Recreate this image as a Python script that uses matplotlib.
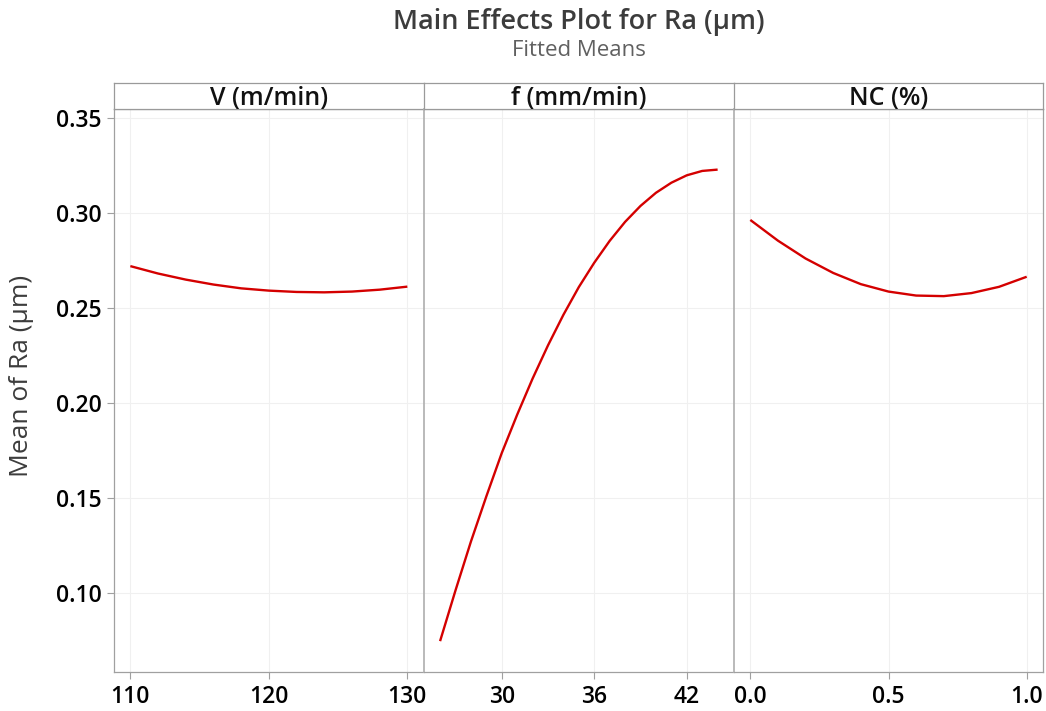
import matplotlib
matplotlib.use("Agg")
import matplotlib.pyplot as plt

# Fitted means
V_LEVELS = [110, 112, 114, 116, 118, 120, 122, 124, 126, 128, 130]
RA_V = [0.2722, 0.2683, 0.2651, 0.2625, 0.2605, 0.2593, 0.2586, 0.2584, 0.2588, 0.2598, 0.2614]

F_LEVELS = [26, 27, 28, 29, 30, 31, 32, 33, 34, 35, 36, 37, 38, 39, 40, 41, 42, 43, 44]
RA_F = [0.0748, 0.1015, 0.1272, 0.1510, 0.1738, 0.1940, 0.2130, 0.2305, 0.2466, 0.2612,
        0.2740, 0.2855, 0.2955, 0.3039, 0.3108, 0.3161, 0.3200, 0.3223, 0.3230]

NC_LEVELS = [0.0, 0.1, 0.2, 0.3, 0.4, 0.5, 0.6, 0.7, 0.8, 0.9, 1.0]
RA_NC = [0.2965, 0.2856, 0.2762, 0.2686, 0.2627, 0.2588, 0.2567, 0.2564, 0.2580, 0.2613, 0.2666]

FACTORS = ["V (m/min)", "f (mm/min)", "NC (%)"]
X_TICKS = [[110, 120, 130], [30, 36, 42], [0.0, 0.5, 1.0]]
X_TICK_LABELS = [["110", "120", "130"], ["30", "36", "42"], ["0.0", "0.5", "1.0"]]
Y_TICKS = [0.10, 0.15, 0.20, 0.25, 0.30, 0.35]

W, H = 1046, 711
FONT = "Open Sans"
RED = "#d40000"
GRID = "#f0f0f0"
EDGE = "#a0a0a0"

plt.rcParams["font.family"] = [FONT, "DejaVu Sans"]

fig = plt.figure(figsize=(W / 100, H / 100), dpi=100)

edges = [114, 423.7, 734, 1043]
top_px, bot_px, hdr_px = 109, 672.3, 83.3
series = [(V_LEVELS, RA_V), (F_LEVELS, RA_F), (NC_LEVELS, RA_NC)]

for i, (xs, ys) in enumerate(series):
    x0, x1 = edges[i], edges[i + 1]
    ax = fig.add_axes([x0 / W, 1 - bot_px / H, (x1 - x0) / W, (bot_px - top_px) / H])
    hdr = fig.add_axes([x0 / W, 1 - top_px / H, (x1 - x0) / W, (top_px - hdr_px) / H])

    ax.plot(xs, ys, color=RED, lw=1.7, solid_capstyle="butt", solid_joinstyle="round")
    span = max(xs) - min(xs)
    ax.set_xlim(min(xs) - 0.059 * span, max(xs) + 0.059 * span)
    ax.set_ylim(0.0584, 0.3549)

    ax.set_xticks(X_TICKS[i])
    ax.set_xticklabels(X_TICK_LABELS[i])
    ax.set_yticks(Y_TICKS)
    ax.grid(True, color=GRID, lw=0.8)
    ax.set_axisbelow(True)
    ax.tick_params(axis="x", direction="out", length=5, color=EDGE, width=0.8,
                   labelsize=16.5, pad=4)
    for lab in ax.get_xticklabels():
        lab.set_fontweight("semibold")

    if i == 0:
        ax.set_yticklabels([f"{v:.2f}" for v in Y_TICKS])
        ax.tick_params(axis="y", direction="out", length=5, color=EDGE, width=0.8,
                       labelsize=16.5, pad=4)
        for lab in ax.get_yticklabels():
            lab.set_fontweight("semibold")
    else:
        ax.tick_params(axis="y", length=0, labelleft=False)

    for side in ["top", "bottom", "left", "right"]:
        ax.spines[side].set_color(EDGE)
        ax.spines[side].set_linewidth(0.9)
    if i > 0:
        ax.spines["left"].set_color("#b4b4b4")
        ax.spines["left"].set_linewidth(1.3)
    if i < 2:
        ax.spines["right"].set_visible(False)

    hdr.set_xticks([])
    hdr.set_yticks([])
    for side in ["top", "bottom", "left", "right"]:
        hdr.spines[side].set_color("#9a9a9a")
        hdr.spines[side].set_linewidth(0.9)
    if i < 2:
        hdr.spines["right"].set_visible(False)
    hdr.text(0.5, 0.42, FACTORS[i], transform=hdr.transAxes, ha="center", va="center",
             fontsize=18, fontweight="semibold", color="#111111")

fig.text(578.5 / W, 1 - 22 / H, "Main Effects Plot for Ra (µm)", ha="center", va="center",
         fontsize=19.5, fontweight="semibold", color="#3c3c3c")
fig.text(578.5 / W, 1 - 50 / H, "Fitted Means", ha="center", va="center",
         fontsize=16, color="#606060")
fig.text(22 / W, 1 - 376 / H, "Mean of Ra (µm)", ha="center", va="center", rotation=90,
         fontsize=19, color="#3c3c3c")

fig.savefig("out.png", dpi=100)
